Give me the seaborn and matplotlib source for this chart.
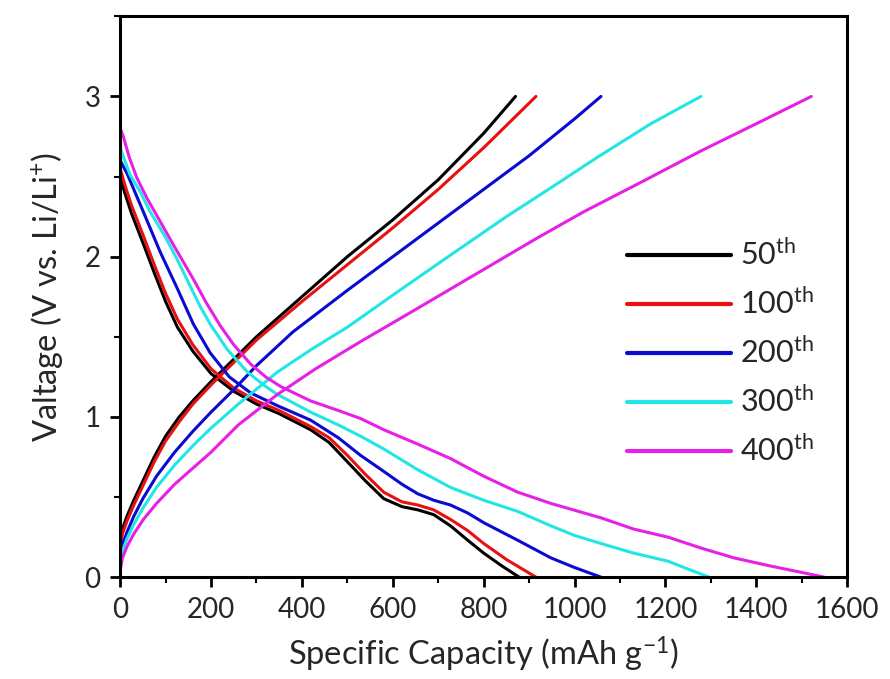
import matplotlib
matplotlib.use("Agg")
import matplotlib.pyplot as plt
import numpy as np
import pandas as pd
import seaborn as sns

# Datos (capacidad en mAh/g, voltaje en V)
ciclos = ['50$^{th}$', '100$^{th}$', '200$^{th}$', '300$^{th}$', '400$^{th}$']
colores = ['#000000', '#e81010', '#0a0ad0', '#22e6e6', '#e620e6']

# Curvas de carga
carga_x = [
    [0, 5, 15, 30, 50, 75, 100, 130, 160, 200, 250, 300, 400, 500, 600, 700, 800, 870],
    [0, 5, 15, 30, 50, 75, 100, 130, 160, 200, 250, 300, 400, 500, 600, 700, 800, 915],
    [0, 5, 15, 30, 50, 80, 120, 160, 200, 250, 300, 380, 500, 600, 700, 800, 900, 1000, 1058],
    [0, 5, 15, 30, 50, 80, 120, 160, 200, 260, 346, 420, 500, 600, 727, 850, 948, 1050, 1168, 1278],
    [0, 5, 15, 30, 51, 80, 120, 160, 200, 260, 346, 430, 529, 650, 800, 920, 1020, 1150, 1278, 1400, 1521],
]
carga_y = [
    [0.20, 0.30, 0.38, 0.48, 0.60, 0.75, 0.88, 1.00, 1.10, 1.22, 1.36, 1.50, 1.75, 2.00, 2.23, 2.48, 2.77, 3.0],
    [0.17, 0.27, 0.35, 0.45, 0.57, 0.72, 0.85, 0.97, 1.08, 1.20, 1.34, 1.48, 1.72, 1.95, 2.18, 2.42, 2.68, 3.0],
    [0.12, 0.20, 0.28, 0.38, 0.49, 0.63, 0.78, 0.91, 1.03, 1.17, 1.32, 1.53, 1.79, 2.00, 2.21, 2.42, 2.63, 2.86, 3.0],
    [0.09, 0.16, 0.24, 0.33, 0.43, 0.56, 0.70, 0.82, 0.93, 1.08, 1.28, 1.42, 1.56, 1.76, 2.01, 2.25, 2.43, 2.62, 2.83, 3.0],
    [0.04, 0.12, 0.19, 0.27, 0.36, 0.46, 0.58, 0.68, 0.78, 0.95, 1.14, 1.30, 1.47, 1.67, 1.92, 2.12, 2.28, 2.47, 2.66, 2.83, 3.0],
]

# Curvas de descarga
descarga_x = [
    [0, 10, 25, 51, 75, 100, 126, 160, 200, 250, 300, 350, 419, 460, 500, 540, 580, 620, 655, 690, 727, 765, 800, 840, 878],
    [0, 10, 25, 51, 75, 100, 126, 160, 200, 250, 300, 350, 419, 460, 500, 540, 580, 620, 655, 690, 727, 765, 800, 850, 915],
    [0, 15, 30, 51, 88, 126, 161, 198, 240, 287, 346, 419, 480, 529, 580, 620, 655, 690, 727, 765, 800, 875, 948, 1000, 1058],
    [0, 10, 22, 45, 66, 100, 126, 150, 176, 200, 236, 280, 320, 346, 419, 480, 529, 580, 655, 727, 800, 875, 948, 1000, 1058, 1130, 1205, 1250, 1296],
    [0, 7, 20, 37, 60, 88, 120, 161, 190, 220, 250, 287, 320, 353, 419, 480, 529, 580, 655, 727, 800, 875, 948, 1058, 1130, 1205, 1280, 1351, 1430, 1499, 1549],
]
descarga_y = [
    [2.50, 2.40, 2.27, 2.08, 1.90, 1.72, 1.56, 1.41, 1.27, 1.16, 1.08, 1.02, 0.92, 0.84, 0.72, 0.60, 0.49, 0.44, 0.42, 0.39, 0.32, 0.23, 0.15, 0.07, 0.0],
    [2.55, 2.45, 2.32, 2.13, 1.95, 1.77, 1.61, 1.45, 1.30, 1.18, 1.10, 1.04, 0.94, 0.87, 0.76, 0.64, 0.53, 0.47, 0.45, 0.42, 0.36, 0.29, 0.21, 0.11, 0.0],
    [2.60, 2.52, 2.42, 2.28, 2.03, 1.80, 1.58, 1.40, 1.25, 1.15, 1.07, 0.98, 0.87, 0.76, 0.66, 0.58, 0.52, 0.48, 0.45, 0.40, 0.34, 0.23, 0.12, 0.06, 0.0],
    [2.68, 2.60, 2.51, 2.40, 2.28, 2.12, 1.98, 1.84, 1.69, 1.57, 1.42, 1.28, 1.19, 1.14, 1.03, 0.95, 0.88, 0.80, 0.67, 0.56, 0.48, 0.41, 0.32, 0.26, 0.21, 0.15, 0.10, 0.05, 0.0],
    [2.80, 2.75, 2.62, 2.49, 2.36, 2.22, 2.06, 1.86, 1.71, 1.57, 1.45, 1.33, 1.25, 1.19, 1.10, 1.04, 0.99, 0.92, 0.83, 0.74, 0.63, 0.53, 0.46, 0.37, 0.30, 0.25, 0.18, 0.12, 0.07, 0.03, 0.0],
]

# Construir tabla larga
filas = []
for i, c in enumerate(ciclos):
    for x, y in zip(carga_x[i], carga_y[i]):
        filas.append((c, 'carga', x, y))
    for x, y in zip(descarga_x[i], descarga_y[i]):
        filas.append((c, 'descarga', x, y))
df = pd.DataFrame(filas, columns=['ciclo', 'rama', 'capacidad', 'voltaje'])

sns.set_style('ticks')
plt.rcParams['font.family'] = ['Lato', 'DejaVu Sans']
plt.rcParams['mathtext.fontset'] = 'custom'
plt.rcParams['mathtext.rm'] = 'Lato'
plt.rcParams['mathtext.it'] = 'Lato'

fig = plt.figure(figsize=(8.9, 6.79), dpi=100)
ax = fig.add_axes([0.135, 0.150, 0.817, 0.826])

sns.lineplot(data=df, x='capacidad', y='voltaje', hue='ciclo', units='rama',
             estimator=None, sort=False, palette=colores, hue_order=ciclos,
             linewidth=2.2, ax=ax)

ax.set_xlim(0, 1600)
ax.set_ylim(0, 3.5)
ax.set_xticks(np.arange(0, 1601, 200))
ax.set_xticks(np.arange(0, 1601, 100), minor=True)
ax.set_yticks([0, 1, 2, 3])
ax.set_yticks(np.arange(0, 3.51, 0.5), minor=True)
ax.tick_params(which='major', direction='out', length=7, width=2, labelsize=20, color='black', pad=7)
ax.tick_params(which='minor', direction='out', length=4, width=1.5, color='black')
for s in ax.spines.values():
    s.set_linewidth(2.2)
    s.set_color('black')

ax.set_xlabel('Specific Capacity (mAh g$^{-1}$)', fontsize=23.5, labelpad=9)
ax.set_ylabel('Valtage (V vs. Li/Li$^{+}$)', fontsize=23.5, labelpad=14)

handles, labels = ax.get_legend_handles_labels()
leg = ax.legend(handles, labels, loc='upper left', bbox_to_anchor=(0.697, 0.603),
                frameon=False, fontsize=22, handlelength=3.4, handletextpad=0.3,
                labelspacing=0.58, borderpad=0, borderaxespad=0)
for h in leg.legend_handles:
    h.set_linewidth(3)

plt.savefig('out.png', dpi=100)
